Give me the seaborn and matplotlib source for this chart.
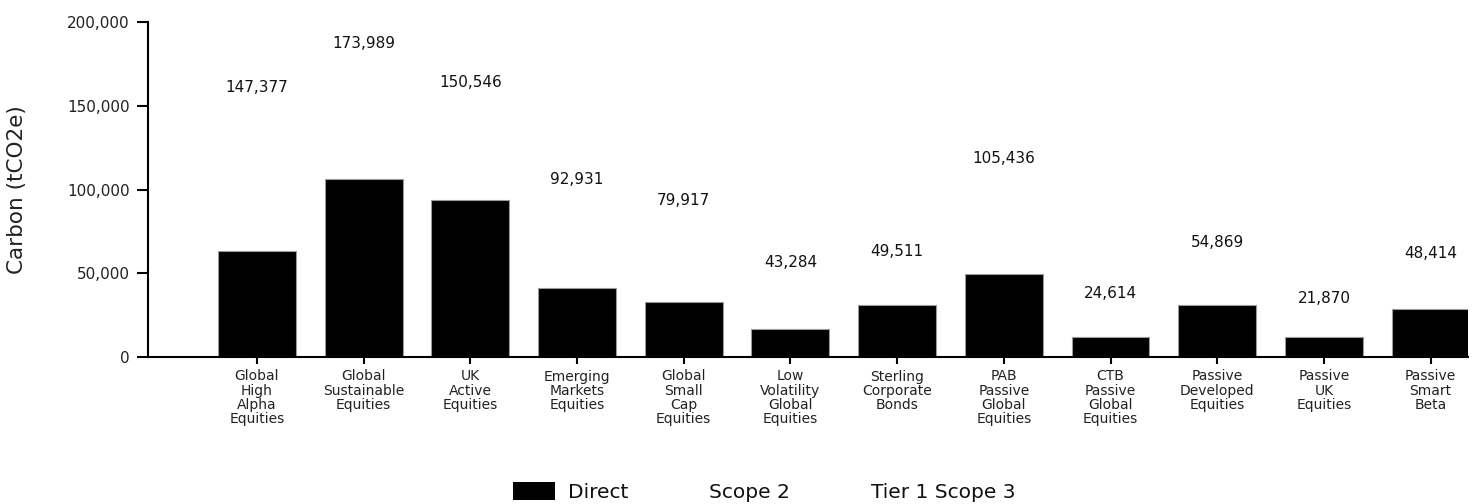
import matplotlib
matplotlib.use("Agg")
import matplotlib.pyplot as plt
from matplotlib.patches import Patch
from matplotlib.ticker import FuncFormatter
import seaborn as sns
import pandas as pd

# ---- data ----
categories = [
    "Global\nHigh\nAlpha\nEquities",
    "Global\nSustainable\nEquities",
    "UK\nActive\nEquities",
    "Emerging\nMarkets\nEquities",
    "Global\nSmall\nCap\nEquities",
    "Low\nVolatility\nGlobal\nEquities",
    "Sterling\nCorporate\nBonds",
    "PAB\nPassive\nGlobal\nEquities",
    "CTB\nPassive\nGlobal\nEquities",
    "Passive\nDeveloped\nEquities",
    "Passive\nUK\nEquities",
    "Passive\nSmart\nBeta",
]
direct = [63100, 106000, 94000, 41200, 32600, 16900, 31300, 49400, 12000, 30900, 12000, 28500]
totals = [147377, 173989, 150546, 92931, 79917, 43284, 49511, 105436, 24614, 54869, 21870, 48414]
series_names = ["Direct", "Scope 2", "Tier 1 Scope 3"]
series_colors = ["#000000", "#ffffff", "#ffffff"]
y_ticks = [0, 50000, 100000, 150000, 200000]
y_label = "Carbon (tCO2e)"

df = pd.DataFrame({"category": categories, "direct": direct, "total": totals})

sns.set_theme(style="white")
plt.rcParams["font.family"] = ["DejaVu Sans"]

fig = plt.figure(figsize=(14.75, 5.04), dpi=100)
ax = fig.add_axes([148 / 1475, 1 - 357 / 504, (1468 - 148) / 1475, (357 - 22) / 504])

# total stack (Scope 2 + Tier 1 Scope 3 are white, invisible)
sns.barplot(data=df, x="category", y="total", order=categories, color=series_colors[1],
            width=0.73, ax=ax, saturation=1, linewidth=0, zorder=1)
sns.barplot(data=df, x="category", y="direct", order=categories, color=series_colors[0],
            width=0.73, ax=ax, saturation=1, edgecolor="#9a9a9a", linewidth=0.8, zorder=2)

for i, t in enumerate(totals):
    ax.annotate(f"{t:,}", (i, t), xytext=(0, 16), textcoords="offset points",
                ha="center", va="center", fontsize=11, color="#111111")

ax.set_ylim(0, 200000)
ax.set_yticks(y_ticks)
ax.yaxis.set_major_formatter(FuncFormatter(lambda v, p: f"{int(v):,}"))
ax.set_xlim(-1.02, 11.35)

for s in ["top", "right"]:
    ax.spines[s].set_visible(False)
for s in ["left", "bottom"]:
    ax.spines[s].set_color("#000000")
    ax.spines[s].set_linewidth(1.5)

ax.tick_params(axis="y", which="major", left=True, length=8, width=1.5, color="#000000",
               labelsize=11, pad=5, labelcolor="#222222")
ax.tick_params(axis="x", which="major", bottom=True, length=5, width=1.5, color="#000000",
               labelsize=10, pad=4, labelcolor="#222222")
for lbl in ax.get_xticklabels():
    lbl.set_linespacing(1.02)

ax.set_xlabel("")
ax.set_ylabel(y_label, fontsize=15.5, color="#222222")
ax.yaxis.set_label_coords((27 - 148) / 1320, 0.5)

handles = [Patch(facecolor=c, edgecolor="none", label=n) for n, c in zip(series_names, series_colors)]
fig.legend(handles=handles, ncol=3, loc="lower left", bbox_to_anchor=(513 / 1475, 0.004),
           frameon=False, fontsize=14.5, handlelength=2.1, handleheight=0.95,
           handletextpad=0.65, columnspacing=1.25, borderpad=0.0, borderaxespad=0.0,
           labelcolor="#111111")

fig.savefig("out.png", dpi=100, facecolor="white")
